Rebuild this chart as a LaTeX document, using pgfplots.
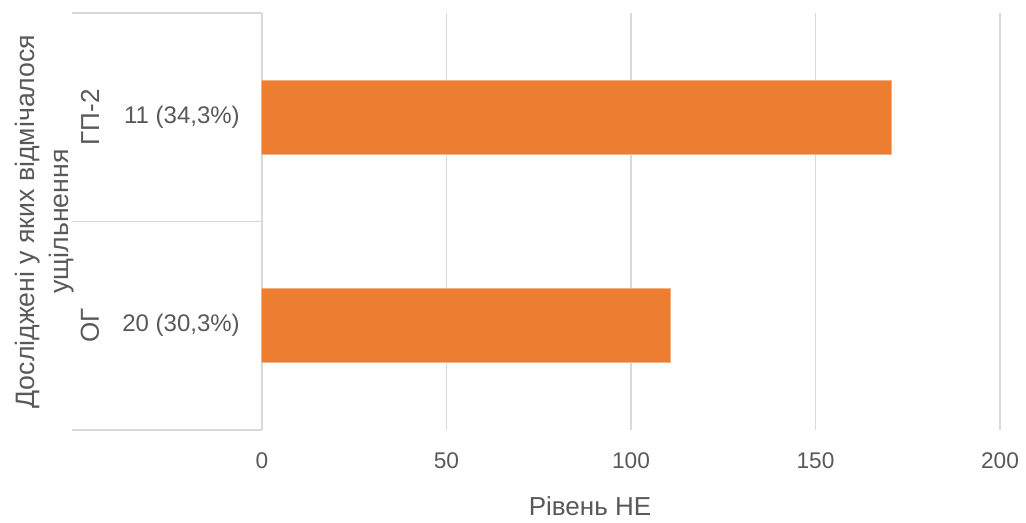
\documentclass[border=0pt]{standalone}
\usepackage{fontspec}
\setmainfont{Liberation Sans}
\usepackage{pgfplots}
\pgfplotsset{compat=1.18}
\definecolor{barorange}{HTML}{ED7D31}
\definecolor{barborder}{HTML}{F4B183}
\definecolor{txtgray}{HTML}{595959}
\definecolor{gridgray}{HTML}{D9D9D9}
\begin{document}
\begin{tikzpicture}
\useasboundingbox (-196.5pt,-69pt) rectangle (573pt,322.5pt);
\begin{axis}[
  at={(0,0)}, anchor=south west,
  scale only axis, width=553.5pt, height=312.75pt,
  xbar, bar width=55.5pt,
  xmin=0, xmax=200, ymin=-0.5, ymax=1.5,
  xtick={0,50,100,150,200},
  ytick={0,1}, yticklabels={20 (30{,}3\%), 11 (34{,}3\%)},
  axis line style={draw=none},
  major tick length=0pt,
  xmajorgrids, grid style={gridgray, line width=1.1pt},
  tick label style={text=txtgray},
  xticklabel style={font=\fontsize{17}{20}\selectfont, anchor=center, yshift=-23.25pt},
  yticklabel style={font=\fontsize{18}{20}\selectfont, anchor=east, inner sep=0pt, xshift=-16.5pt},
  /pgf/number format/assume math mode=true,
  clip=false,
]
\addplot[fill=barorange, draw=barborder, line width=0.75pt] coordinates {(110.6,0) (170.5,1)};
\draw[gridgray, line width=1.1pt] (rel axis cs:-0.25745,0) -- (rel axis cs:0,0);
\draw[gridgray, line width=1.1pt] (rel axis cs:-0.25745,0.5) -- (rel axis cs:0,0.5);
\draw[gridgray, line width=1.1pt] (rel axis cs:-0.25745,1) -- (rel axis cs:0,1);
\node[xshift=-129pt, rotate=90, text=txtgray, font=\fontsize{19.5}{22}\selectfont] at (axis cs:0,1) {ГП-2};
\node[xshift=-129pt, rotate=90, text=txtgray, font=\fontsize{19.5}{22}\selectfont] at (axis cs:0,0) {ОГ};
\node[xshift=-162.75pt, rotate=90, align=center, text=txtgray, font=\fontsize{20}{25.5}\selectfont] at (axis cs:0,0.5) {Досліджені у яких відмічалося\\ущільнення};
\node[yshift=-57.5pt, text=txtgray, font=\fontsize{19.5}{22}\selectfont] at (axis cs:88.9,-0.5) {Рівень НЕ};
\end{axis}
\end{tikzpicture}
\end{document}
